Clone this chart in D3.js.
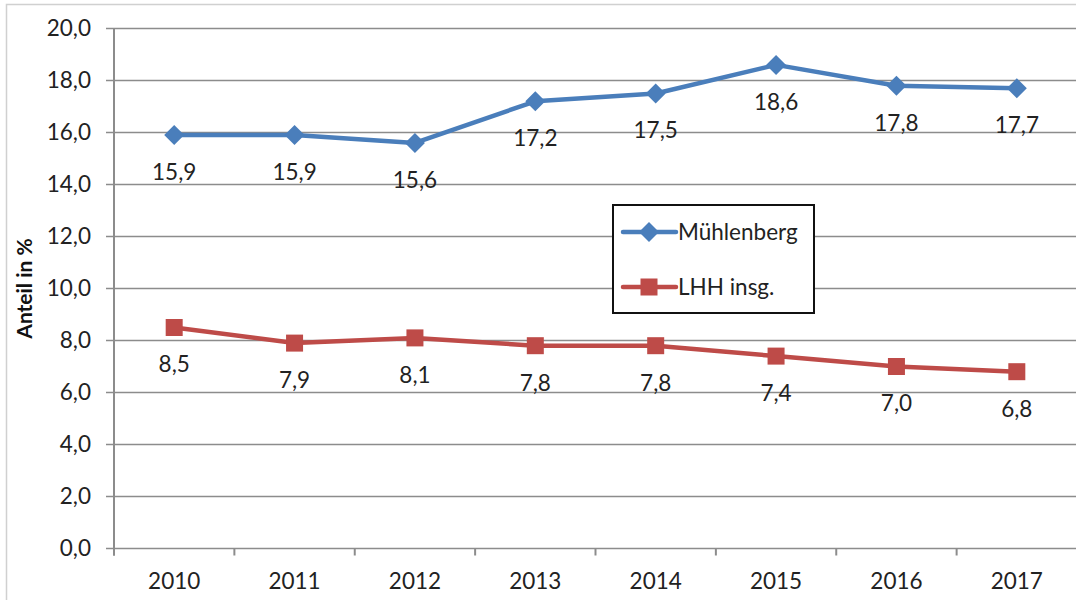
<!DOCTYPE html>
<html>
<head>
<meta charset="utf-8">
<script src="https://cdn.jsdelivr.net/npm/d3@7"></script>
<style>
  body { margin: 0; background: #fff; }
  svg { display: block; font-family: Lato, "Open Sans", sans-serif; }
</style>
</head>
<body>
<script>
const width = 1076,
    height = 600;

const years = ["2010", "2011", "2012", "2013", "2014", "2015", "2016", "2017"];
const muehlenberg = [15.9, 15.9, 15.6, 17.2, 17.5, 18.6, 17.8, 17.7];
const lhh = [8.5, 7.9, 8.1, 7.8, 7.8, 7.4, 7.0, 6.8];
const yTicks = [0, 2, 4, 6, 8, 10, 12, 14, 16, 18, 20];

const series = [
  { name: "Mühlenberg", values: muehlenberg, color: "#4a7ebb", marker: "diamond" },
  { name: "LHH insg.", values: lhh, color: "#be4b48", marker: "square" }
];

const fmt = v => d3.format(".1f")(v).replace(".", ",");
const fs = 22.5;

const svg = d3.select("body").append("svg")
    .attr("width", width)
    .attr("height", height);

// outer frame
svg.append("rect")
    .attr("x", 6.5).attr("y", 4.5)
    .attr("width", width + 10).attr("height", height + 10)
    .attr("fill", "none").attr("stroke", "#d0d0d0").attr("stroke-width", 1.5);

const plotLeft = 114, plotRight = 1077, plotTop = 28.5, plotBottom = 548.5;

const x = d3.scaleBand().domain(years).range([plotLeft, plotRight]);
const y = d3.scaleLinear().domain([0, 20]).range([plotBottom, plotTop]);

// grid
svg.append("g").selectAll("line")
    .data(yTicks)
    .enter().append("line")
    .attr("x1", plotLeft - 8).attr("x2", plotRight)
    .attr("y1", d => y(d)).attr("y2", d => y(d))
    .attr("stroke", "#8c8c8c").attr("stroke-width", 1.5);

// y axis line
svg.append("line")
    .attr("x1", plotLeft).attr("x2", plotLeft)
    .attr("y1", plotTop).attr("y2", plotBottom + 7)
    .attr("stroke", "#8c8c8c").attr("stroke-width", 2);

// x axis ticks at band edges
const edges = years.map(d => x(d)).concat([plotRight]);
svg.append("g").selectAll("line")
    .data(edges)
    .enter().append("line")
    .attr("x1", d => d).attr("x2", d => d)
    .attr("y1", plotBottom).attr("y2", plotBottom + 7)
    .attr("stroke", "#8c8c8c").attr("stroke-width", 2);

// y tick labels
svg.append("g").selectAll("text")
    .data(yTicks)
    .enter().append("text")
    .attr("x", 91).attr("y", d => y(d))
    .attr("dy", "0.35em")
    .attr("text-anchor", "end")
    .attr("font-size", fs)
    .attr("fill", "#222")
    .text(fmt);

// x labels
svg.append("g").selectAll("text")
    .data(years)
    .enter().append("text")
    .attr("x", d => x(d) + x.bandwidth() / 2)
    .attr("y", 581)
    .attr("dy", "0.35em")
    .attr("text-anchor", "middle")
    .attr("font-size", fs)
    .attr("fill", "#222")
    .text(d => d);

// y title
svg.append("text")
    .attr("transform", "translate(32," + ((plotTop + plotBottom) / 2) + ") rotate(-90)")
    .attr("text-anchor", "middle")
    .attr("font-size", 21)
    .attr("font-weight", "bold")
    .attr("fill", "#111")
    .text("Anteil in %");

const line = d3.line()
    .x((d, i) => x(years[i]) + x.bandwidth() / 2)
    .y(d => y(d));

function drawMarker(g, type, color) {
  if (type === "diamond") {
    g.append("path").attr("d", "M0,-10L10,0L0,10L-10,0Z").attr("fill", color);
  } else {
    g.append("rect").attr("x", -8.5).attr("y", -8.5).attr("width", 17).attr("height", 17).attr("fill", color);
  }
}

series.forEach(s => {
  svg.append("path")
      .datum(s.values)
      .attr("fill", "none")
      .attr("stroke", s.color)
      .attr("stroke-width", 4.5)
      .attr("stroke-linejoin", "round")
      .attr("d", line);

  const pts = svg.append("g").selectAll("g")
      .data(s.values)
      .enter().append("g")
      .attr("transform", (d, i) => "translate(" + (x(years[i]) + x.bandwidth() / 2) + "," + y(d) + ")");
  pts.each(function() { drawMarker(d3.select(this), s.marker, s.color); });

  svg.append("g").selectAll("text")
      .data(s.values)
      .enter().append("text")
      .attr("x", (d, i) => x(years[i]) + x.bandwidth() / 2)
      .attr("y", d => y(d) + 37)
      .attr("dy", "0.35em")
      .attr("text-anchor", "middle")
      .attr("font-size", fs)
      .attr("fill", "#222")
      .text(fmt);
});

// legend
const legend = svg.append("g").attr("transform", "translate(613,205)");
legend.append("rect")
    .attr("width", 201).attr("height", 108)
    .attr("fill", "#fff").attr("stroke", "#111").attr("stroke-width", 2);

series.forEach((s, i) => {
  const row = legend.append("g").attr("transform", "translate(0," + (27 + i * 55) + ")");
  row.append("line")
      .attr("x1", 10).attr("x2", 63)
      .attr("stroke", s.color).attr("stroke-width", 4.5).attr("stroke-linecap", "round");
  const m = row.append("g").attr("transform", "translate(36,0)");
  drawMarker(m, s.marker, s.color);
  row.append("text")
      .attr("x", 65).attr("dy", "0.35em")
      .attr("font-size", fs)
      .attr("fill", "#222")
      .text(s.name);
});
</script>
</body>
</html>
